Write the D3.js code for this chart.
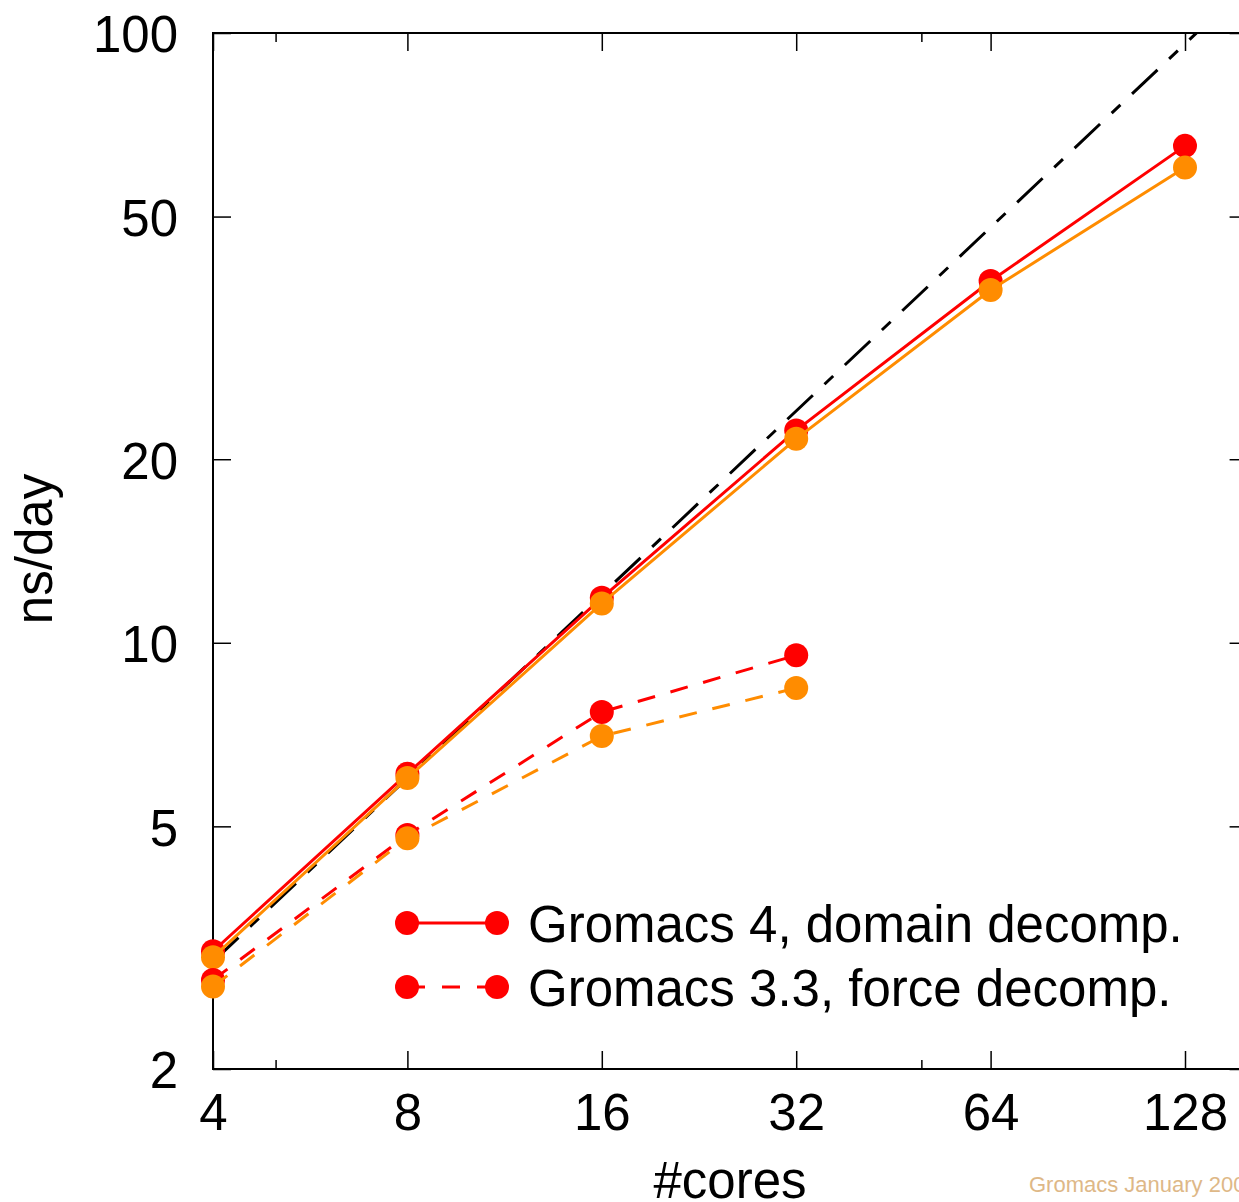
<!DOCTYPE html>
<html>
<head>
<meta charset="utf-8">
<script src="https://cdn.jsdelivr.net/npm/d3@7"></script>
<style>
  html, body { margin: 0; padding: 0; background: #fff; }
  svg { display: block; font-family: "Liberation Sans", Arial, sans-serif; }
</style>
</head>
<body>
<svg id="chart" width="1239" height="1202"></svg>
<script>
// ---- data ----
const cores = [4, 8, 16, 32, 64, 128];
const g4Red = [3.12, 6.1, 11.85, 22.3, 39.2, 65.3];
const g4Orange = [3.05, 6.0, 11.6, 21.6, 37.9, 60.2];
const coresFD = [4, 8, 16, 32];
const g33Red = [2.80, 4.84, 7.70, 9.54];
const g33Orange = [2.73, 4.78, 7.03, 8.43];
const idealCores = [4, 160];
const idealNs = [3.0, 120];
const xTicks = [4, 8, 16, 32, 64, 128];
const xMinorTicks = [5, 50];
const yTicks = [2, 5, 10, 20, 50, 100];
const legendLabels = ["Gromacs 4, domain decomp.", "Gromacs 3.3, force decomp."];
const xTitle = "#cores";
const yTitle = "ns/day";
const stamp = "Gromacs January 2008";

(function () {
// ---- layout ----
const pLeft = 213, pTop = 33, pBottom = 1069;
const perDoubling = 194.4;
const pRight = pLeft + Math.log2(160 / 4) * perDoubling;
const RED = "#ff0000", ORANGE = "#ff8c00";
const FS = 51;

const svg = d3.select("#chart");
const x = d3.scaleLog().base(2).domain([4, 160]).range([pLeft, pRight]);
const y = d3.scaleLog().base(10).domain([2, 100]).range([pBottom, pTop]);

svg.append("defs").append("clipPath").attr("id", "plotclip")
  .append("rect").attr("x", pLeft).attr("y", pTop)
  .attr("width", pRight - pLeft).attr("height", pBottom - pTop);

// frame
svg.append("rect").attr("x", pLeft).attr("y", pTop)
  .attr("width", pRight - pLeft).attr("height", pBottom - pTop)
  .attr("fill", "none").attr("stroke", "#000").attr("stroke-width", 2);

function styleAxis(g) {
  g.select(".domain").remove();
  g.selectAll(".tick line").attr("stroke", "#000").attr("stroke-width", 1.5);
  g.selectAll("text").attr("fill", "#000").attr("font-size", FS)
    .attr("font-family", "Liberation Sans, Arial, sans-serif");
}

// bottom axis
const gb = svg.append("g").attr("transform", `translate(0,${pBottom})`)
  .call(d3.axisBottom(x).tickValues(xTicks).tickFormat(d3.format("d")).tickSize(-18));
styleAxis(gb);
gb.selectAll("text").attr("y", 61).attr("dy", 0);
svg.append("g").attr("transform", `translate(0,${pBottom})`)
  .call(d3.axisBottom(x).tickValues(xMinorTicks).tickFormat("").tickSize(-9))
  .call(styleAxis);

// top axis
svg.append("g").attr("transform", `translate(0,${pTop})`)
  .call(d3.axisTop(x).tickValues(xTicks).tickFormat("").tickSize(-18))
  .call(styleAxis);
svg.append("g").attr("transform", `translate(0,${pTop})`)
  .call(d3.axisTop(x).tickValues(xMinorTicks).tickFormat("").tickSize(-9))
  .call(styleAxis);

// left axis
const gl = svg.append("g").attr("transform", `translate(${pLeft},0)`)
  .call(d3.axisLeft(y).tickValues(yTicks).tickFormat(d3.format("d")).tickSize(-18));
styleAxis(gl);
gl.selectAll("text").attr("x", -35).attr("dy", "0.37em");

// right axis
svg.append("g").attr("transform", `translate(${pRight},0)`)
  .call(d3.axisRight(y).tickValues(yTicks).tickFormat("").tickSize(-18))
  .call(styleAxis);

// ideal scaling line
const line = d3.line().x(d => x(d[0])).y(d => y(d[1]));
svg.append("path")
  .attr("clip-path", "url(#plotclip)")
  .attr("d", line(d3.zip(idealCores, idealNs)))
  .attr("fill", "none").attr("stroke", "#000").attr("stroke-width", 3)
  .attr("stroke-dasharray", "35,16,12,16");

function series(xs, ys, color, dashed) {
  const g = svg.append("g");
  g.append("path").attr("d", line(d3.zip(xs, ys)))
    .attr("fill", "none").attr("stroke", color).attr("stroke-width", 3)
    .attr("stroke-dasharray", dashed ? "18,16" : null);
  g.selectAll("circle").data(d3.zip(xs, ys)).join("circle")
    .attr("cx", d => x(d[0])).attr("cy", d => y(d[1])).attr("r", 12)
    .attr("fill", color);
}
series(cores, g4Red, RED, false);
series(cores, g4Orange, ORANGE, false);
series(coresFD, g33Red, RED, true);
series(coresFD, g33Orange, ORANGE, true);

// legend
const legY = [923, 987];
legendLabels.forEach((lab, i) => {
  const g = svg.append("g");
  g.append("line").attr("x1", 407).attr("x2", 497).attr("y1", legY[i]).attr("y2", legY[i])
    .attr("stroke", RED).attr("stroke-width", 3)
    .attr("stroke-dasharray", i === 1 ? "18,17" : null);
  [407, 497].forEach(cx => g.append("circle").attr("cx", cx).attr("cy", legY[i]).attr("r", 12).attr("fill", RED));
  g.append("text").attr("x", 528).attr("y", legY[i] + 19).attr("font-size", FS)
    .attr("fill", "#000").text(lab);
});

// axis titles
svg.append("text").attr("x", 730).attr("y", 1198).attr("text-anchor", "middle")
  .attr("font-size", FS).attr("fill", "#000").text(xTitle);
svg.append("text").attr("transform", "translate(52,549) rotate(-90)")
  .attr("text-anchor", "middle").attr("font-size", FS).attr("fill", "#000").text(yTitle);

// stamp
svg.append("text").attr("x", 1029).attr("y", 1192).attr("font-size", 22)
  .attr("fill", "#deb887").text(stamp);
})();
</script>
</body>
</html>
